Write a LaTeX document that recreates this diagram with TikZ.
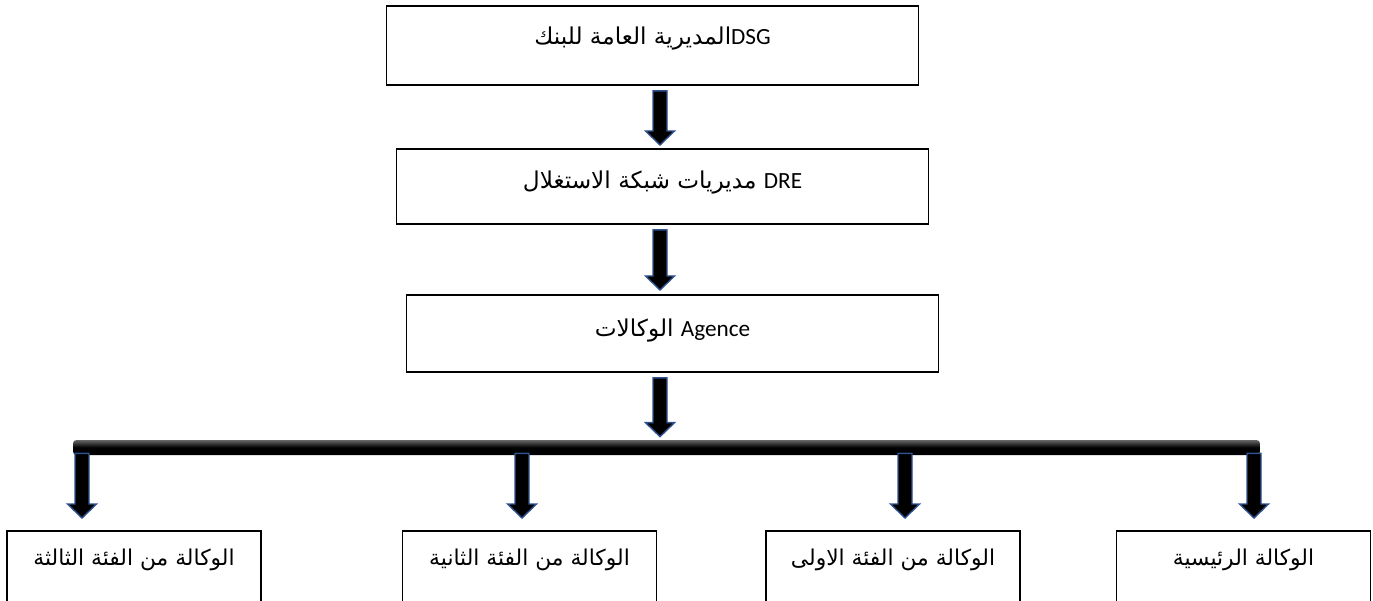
\documentclass[tikz,border=0pt]{standalone}
\usepackage{fontspec}
\usepackage{xcolor}
\setmainfont{Carlito}
\newfontfamily\arabicfont[Script=Arabic]{DejaVu Sans}
\TeXXeTstate=1
\usetikzlibrary{calc}
\usetikzlibrary{positioning}

\definecolor{arrowblue}{RGB}{47,82,143}

\tikzset{
  unitbox/.style={draw, line width=1.1pt, inner xsep=0pt, inner ysep=0pt, anchor=north, align=center},
  headbox/.style={unitbox, minimum width=10.64cm, font=\fontsize{13.2}{15}\selectfont},
  leafbox/.style={unitbox, minimum width=5.08cm, text height=0.70cm, text depth=1.10cm, font=\fontsize{12.4}{14}\selectfont},
  blockarr/.style={fill=black, draw=arrowblue, line width=0.8pt, line join=miter},
}

% block arrow between two points, tip at the second one
\newcommand{\blockarrow}[2]{%
  \path (#1) coordinate (ba-s) (#2) coordinate (ba-e);
  \filldraw[blockarr] ($(ba-s)+(-0.14,0)$) -- ($(ba-e)+(-0.14,0.28)$) -- ($(ba-e)+(-0.29,0.28)$)
    -- (ba-e) -- ($(ba-e)+(0.29,0.28)$) -- ($(ba-e)+(0.14,0.28)$) -- ($(ba-s)+(0.14,0)$) -- cycle;}

\begin{document}
\begin{tikzpicture}
    \useasboundingbox (0,0) rectangle (27.46,-12.02);
    \clip (0,0) rectangle (27.46,-12.02);

    \coordinate (spine) at (13.2,0);

    \node[headbox, text height=0.78cm, text depth=0.80cm] (dsg) at (13.05,-0.10)
      {\arabicfont\beginR\beginL{\rmfamily DSG}\endL المديرية العامة للبنك\endR};
    \node[headbox, text height=0.80cm, text depth=0.70cm] (dre) at (13.25,-2.96)
      {\arabicfont\beginR\beginL{\rmfamily DRE}\endL{} مديريات شبكة الاستغلال\endR};
    \node[headbox, text height=0.84cm, text depth=0.70cm] (agence) at (13.45,-5.88)
      {\arabicfont\beginR\beginL{\rmfamily Agence}\endL{} الوكالات\endR};

    \node[top color=black!60, bottom color=black, middle color=black, rounded corners=2pt,
      minimum width=23.74cm, minimum height=0.30cm, inner sep=0pt] (bar) at (13.33,-8.95) {};

    \node[leafbox] (third) at (2.68,-10.60) {\arabicfont\beginR الوكالة من الفئة الثالثة\endR};
    \node[leafbox] (second) at (10.59,-10.60) {\arabicfont\beginR الوكالة من الفئة الثانية\endR};
    \node[leafbox] (first) at (17.86,-10.60) {\arabicfont\beginR الوكالة من الفئة الاولى\endR};
    \node[leafbox] (main) at (24.87,-10.60) {\arabicfont\beginR الوكالة الرئيسية\endR};

    \blockarrow{$(dsg.south -| spine)+(0,-0.10)$}{$(dre.north -| spine)+(0,0.06)$}
    \blockarrow{$(dre.south -| spine)+(0,-0.10)$}{$(agence.north -| spine)+(0,0.08)$}
    \blockarrow{$(agence.south -| spine)+(0,-0.10)$}{$(bar.north -| spine)+(0,0.06)$}

    \foreach \n/\x in {third/1.64, second/10.44, first/18.10, main/25.08}{
      \coordinate (top-\n) at ($(bar.south)+(\x-13.33,0.04)$);
      \blockarrow{top-\n}{$(\n.north -| top-\n)+(0,0.24)$}
    }
  \end{tikzpicture}
\end{document}
